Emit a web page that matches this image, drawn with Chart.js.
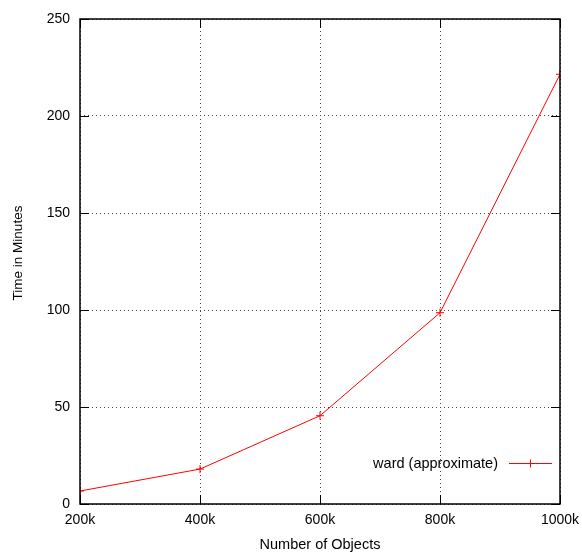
<!DOCTYPE html>
<html>
<head>
<meta charset="utf-8">
<script src="https://cdn.jsdelivr.net/npm/chart.js@4.4.1/dist/chart.umd.min.js"></script>
<style>
  html, body { margin: 0; padding: 0; background: #fff; }
  #wrap { width: 582px; height: 554px; }
</style>
</head>
<body>
<div id="wrap"><canvas id="canvas" width="582" height="554"></canvas></div>
<script>
// object counts (thousands) and run time in minutes
var objects = [200, 400, 600, 800, 1000];
var minutes = [6.7, 18.0, 45.5, 98.6, 221.5];
var seriesName = 'ward (approximate)';
var yTitle = 'Time in Minutes';
var xTicks = [200, 400, 600, 800, 1000];
var yTicks = [0, 50, 100, 150, 200, 250];

var FONT = 'Liberation Sans, Arial, sans-serif';

// box around the plot with inward tick marks on all four sides, plus the key
var framePlugin = {
	id: 'frame',
	afterDraw: function(chart) {
		var ctx = chart.ctx;
		var a = chart.chartArea;
		var xs = chart.scales.x, ys = chart.scales.y;
		var len = 9;
		ctx.save();
		ctx.strokeStyle = '#000';
		ctx.lineWidth = 1;
		ctx.beginPath();
		xTicks.forEach(function(v) {
			var px = Math.round(xs.getPixelForValue(v)) + 0.5;
			ctx.moveTo(px, a.bottom); ctx.lineTo(px, a.bottom - len);
			ctx.moveTo(px, a.top); ctx.lineTo(px, a.top + len);
		});
		yTicks.forEach(function(v) {
			var py = Math.round(ys.getPixelForValue(v)) + 0.5;
			ctx.moveTo(a.left, py); ctx.lineTo(a.left + len, py);
			ctx.moveTo(a.right, py); ctx.lineTo(a.right - len, py);
		});
		ctx.stroke();
		ctx.lineWidth = 1.5;
		ctx.strokeRect(a.left, a.top, a.right - a.left, a.bottom - a.top);

		// rotated y-axis title, sitting a little above the plot's middle
		ctx.save();
		ctx.translate(18.5, 253);
		ctx.rotate(-Math.PI / 2);
		ctx.font = '13.5px ' + FONT;
		ctx.fillStyle = '#000';
		ctx.textAlign = 'center';
		ctx.textBaseline = 'middle';
		ctx.fillText(yTitle, 0, 0);
		ctx.restore();

		// key in the lower right corner
		var ky = 463.5;
		var x1 = 509, x2 = 552, xm = (x1 + x2) / 2;
		ctx.font = '14.5px ' + FONT;
		ctx.fillStyle = '#000';
		ctx.textAlign = 'right';
		ctx.textBaseline = 'middle';
		ctx.fillText(seriesName, 498, ky);
		ctx.strokeStyle = '#ff0000';
		ctx.lineWidth = 1;
		ctx.beginPath();
		ctx.moveTo(x1, ky); ctx.lineTo(x2, ky);
		ctx.moveTo(xm - 4, ky); ctx.lineTo(xm + 4, ky);
		ctx.moveTo(xm, ky - 4); ctx.lineTo(xm, ky + 4);
		ctx.stroke();
		ctx.restore();
	}
};

var ctx = document.getElementById('canvas').getContext('2d');
window.myLine = new Chart(ctx, {
	type: 'line',
	data: {
		datasets: [{
			label: seriesName,
			data: objects.map(function(o, i) { return { x: o, y: minutes[i] }; }),
			borderColor: '#ff0000',
			backgroundColor: '#ff0000',
			borderWidth: 1,
			pointStyle: 'cross',
			pointRadius: 4,
			pointBorderWidth: 1,
			pointBorderColor: '#ff0000',
			tension: 0,
			fill: false
		}]
	},
	options: {
		responsive: false,
		animation: false,
		layout: { padding: { top: 19, right: 22, left: 0, bottom: 0 } },
		plugins: {
			legend: { display: false },
			tooltip: { enabled: false }
		},
		scales: {
			x: {
				type: 'linear',
				min: 200,
				max: 1000,
				afterBuildTicks: function(axis) {
					axis.ticks = xTicks.map(function(v) { return { value: v }; });
				},
				afterFit: function(axis) {
					axis.height = 50;
					axis.paddingLeft = 0;
					axis.paddingRight = 0;
				},
				ticks: {
					color: '#000',
					font: { family: FONT, size: 14 },
					padding: 8,
					maxRotation: 0,
					callback: function(v) { return v + 'k'; }
				},
				grid: { color: '#444', lineWidth: 1, drawTicks: false },
				border: { display: false, dash: [1, 3] },
				title: {
					display: true,
					text: 'Number of Objects',
					color: '#000',
					font: { family: FONT, size: 14.5 },
					padding: { top: 4, bottom: 0 }
				}
			},
			y: {
				type: 'linear',
				min: 0,
				max: 250,
				afterBuildTicks: function(axis) {
					axis.ticks = yTicks.map(function(v) { return { value: v }; });
				},
				afterFit: function(axis) {
					axis.width = 80;
					axis.paddingTop = 0;
					axis.paddingBottom = 0;
				},
				ticks: {
					color: '#000',
					font: { family: FONT, size: 14 },
					padding: 10
				},
				grid: { color: '#444', lineWidth: 1, drawTicks: false },
				border: { display: false, dash: [1, 3] },
				title: { display: false }
			}
		}
	},
	plugins: [framePlugin]
});
</script>
</body>
</html>
